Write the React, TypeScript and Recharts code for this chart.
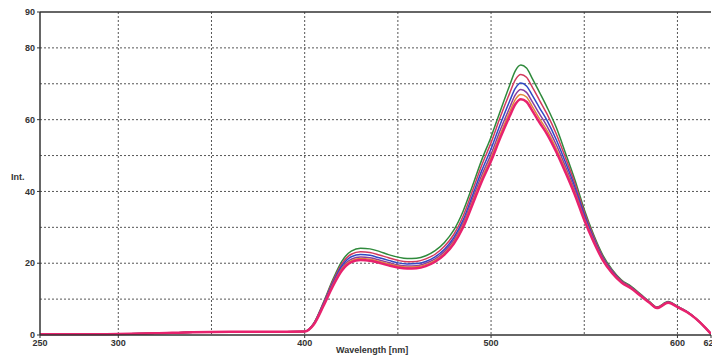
import { LineChart, Line, XAxis, YAxis, CartesianGrid, ReferenceLine } from 'recharts'

if (typeof document !== 'undefined') {
  document.body.style.margin = '0'
}

const wavelengths = [
  258, 280, 300, 320, 340, 360, 380, 400, 405, 410, 415, 420, 425, 430, 435, 440, 445, 450, 455, 460,
  465, 470, 475, 480, 485, 490, 495, 500, 505, 510, 513, 516, 519, 522, 526, 530, 535, 540, 545, 550,
  555, 560, 565, 570, 575, 580, 585, 589, 595, 600, 605, 610, 615, 618,
]

const green = [
  0.2, 0.2, 0.3, 0.5, 0.8, 0.9, 0.9, 1.0, 3.4, 9.0, 15.3, 20.6, 23.4, 24.2, 24.0, 23.3, 22.4, 21.7, 21.3, 21.4,
  22.1, 23.5, 25.8, 29.2, 34.5, 41.5, 48.8, 55.2, 62.5, 69.6, 73.6, 75.2, 74.4, 71.6, 67.6, 63.5, 57.8, 50.6, 43.2, 35.0,
  28.0, 22.2, 18.2, 15.3, 13.6, 11.5, 9.3, 7.8, 9.3, 8.0, 6.6, 4.6, 2.0, 0.3,
]

const red = [
  0.2, 0.2, 0.3, 0.5, 0.8, 0.9, 0.9, 1.0, 3.3, 8.8, 14.9, 19.9, 22.5, 23.2, 23.0, 22.3, 21.5, 20.8, 20.4, 20.5,
  21.2, 22.5, 24.7, 28.0, 33.1, 40.1, 47.3, 53.6, 60.8, 67.4, 71.1, 72.6, 71.8, 69.2, 65.4, 61.6, 56.0, 49.3, 42.2, 34.3,
  27.5, 21.8, 17.9, 15.1, 13.4, 11.3, 9.2, 7.7, 9.2, 7.9, 6.5, 4.6, 2.0, 0.3,
]

const blue = [
  0.2, 0.2, 0.3, 0.5, 0.8, 0.9, 0.9, 1.0, 3.2, 8.6, 14.4, 19.3, 21.8, 22.4, 22.2, 21.5, 20.8, 20.1, 19.8, 19.9,
  20.5, 21.8, 23.9, 27.1, 32.0, 38.8, 45.8, 51.9, 58.8, 65.2, 68.7, 70.2, 69.4, 66.9, 63.3, 59.8, 54.4, 48.0, 41.2, 33.6,
  27.0, 21.5, 17.7, 14.9, 13.3, 11.2, 9.1, 7.6, 9.1, 7.9, 6.5, 4.5, 2.0, 0.3,
]

const purple = [
  0.2, 0.2, 0.3, 0.5, 0.8, 0.9, 0.9, 1.0, 3.1, 8.3, 14.0, 18.7, 21.1, 21.7, 21.5, 20.9, 20.2, 19.5, 19.2, 19.3,
  20.0, 21.2, 23.3, 26.4, 31.2, 37.8, 44.5, 50.4, 57.2, 63.4, 66.9, 68.4, 67.6, 65.1, 61.6, 58.2, 53.0, 46.8, 40.3, 32.9,
  26.6, 21.2, 17.5, 14.8, 13.2, 11.1, 9.0, 7.6, 9.1, 7.9, 6.5, 4.5, 2.0, 0.3,
]

const orange = [
  0.2, 0.2, 0.3, 0.5, 0.8, 0.9, 0.9, 1.0, 3.0, 8.1, 13.8, 18.4, 20.7, 21.3, 21.1, 20.5, 19.8, 19.2, 18.9, 19.0,
  19.6, 20.8, 22.8, 25.9, 30.6, 37.0, 43.6, 49.4, 56.0, 62.2, 65.6, 67.0, 66.3, 63.8, 60.3, 57.0, 51.9, 46.0, 39.6, 32.4,
  26.3, 21.0, 17.3, 14.7, 13.1, 11.0, 9.0, 7.5, 9.0, 7.8, 6.4, 4.5, 2.0, 0.3,
]

const pink = [
  0.2, 0.2, 0.3, 0.5, 0.8, 0.9, 0.9, 1.0, 3.0, 8.0, 13.5, 18.0, 20.3, 20.9, 20.7, 20.1, 19.4, 18.8, 18.5, 18.6,
  19.2, 20.4, 22.4, 25.4, 30.0, 36.3, 42.8, 48.5, 55.0, 61.0, 64.3, 65.7, 65.0, 62.6, 59.2, 56.0, 51.0, 45.2, 39.0, 32.0,
  26.0, 20.8, 17.2, 14.6, 13.0, 11.0, 9.0, 7.5, 9.0, 7.8, 6.4, 4.5, 2.0, 0.3,
]

const xTicks = [258, 300, 400, 500, 600, 618]
const xTickLabels = ['250', '300', '400', '500', '600', '620']
const yTicks = [0, 20, 40, 60, 80, 90]
const gridX = [300, 350, 400, 450, 500, 550, 600]
const gridY = [10, 20, 30, 40, 50, 60, 70, 80]

const series = [
  { key: 'green', color: '#2f8a3c', width: 1.5 },
  { key: 'red', color: '#d23a5e', width: 1.5 },
  { key: 'blue', color: '#3048c4', width: 1.5 },
  { key: 'purple', color: '#8a3c9e', width: 1.5 },
  { key: 'orange', color: '#e08a3a', width: 1.5 },
  { key: 'pink', color: '#e8226e', width: 2.5 },
]

const data = wavelengths.map((w, i) => ({
  w,
  green: green[i],
  red: red[i],
  blue: blue[i],
  purple: purple[i],
  orange: orange[i],
  pink: pink[i],
}))

const tickStyle = { fontSize: 9, fontWeight: 700, fill: '#333', fontFamily: 'Liberation Sans, Arial, sans-serif' }

export default function App() {
  return (
    <div style={{ position: 'relative', width: 712, height: 358, background: '#fff' }}>
      <LineChart width={712} height={358} data={data} margin={{ top: 12, right: 1, left: 4, bottom: 9 }}>
        <CartesianGrid
          stroke="#555"
          strokeDasharray="2 2"
          horizontalValues={gridY}
          verticalValues={gridX}
        />
        <XAxis
          dataKey="w"
          type="number"
          domain={[258, 618]}
          ticks={xTicks}
          tickFormatter={(v: number) => xTickLabels[xTicks.indexOf(v)] ?? String(v)}
          tick={tickStyle}
          tickLine={{ stroke: '#333' }}
          tickSize={3}
          axisLine={{ stroke: '#333', strokeWidth: 1.5 }}
          height={14}
          interval={0}
          allowDataOverflow
        />
        <YAxis
          type="number"
          domain={[0, 90]}
          ticks={yTicks}
          tick={tickStyle}
          tickLine={{ stroke: '#333' }}
          tickSize={3}
          axisLine={{ stroke: '#333', strokeWidth: 1.5 }}
          width={36}
          interval={0}
        />
        <ReferenceLine y={90} stroke="#333" strokeWidth={1.5} />
        {series.map((s) => (
          <Line
            key={s.key}
            dataKey={s.key}
            type="monotone"
            stroke={s.color}
            strokeWidth={s.width}
            dot={false}
            isAnimationActive={false}
          />
        ))}
      </LineChart>
      <div
        style={{
          position: 'absolute',
          left: 11,
          top: 172,
          fontSize: 9,
          fontWeight: 700,
          color: '#333',
          fontFamily: 'Liberation Sans, Arial, sans-serif',
        }}
      >
        Int.
      </div>
      <div
        style={{
          position: 'absolute',
          left: 336,
          top: 345,
          fontSize: 9,
          fontWeight: 700,
          color: '#333',
          fontFamily: 'Liberation Sans, Arial, sans-serif',
        }}
      >
        Wavelength [nm]
      </div>
    </div>
  )
}
